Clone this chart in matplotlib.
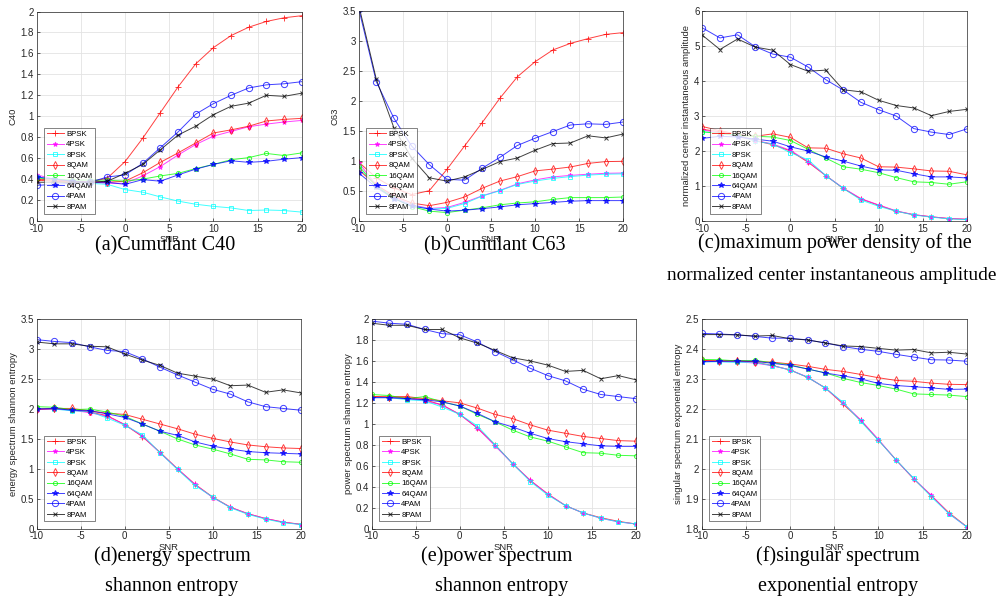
import numpy as np
import matplotlib.pyplot as plt

snr = np.arange(-10, 21, 2)
mods = ["BPSK", "4PSK", "8PSK", "8QAM", "16QAM", "64QAM", "4PAM", "8PAM"]

# (a) cumulant C40
c40 = {
    "BPSK": [0.39, 0.38, 0.37, 0.37, 0.41, 0.567, 0.79, 1.035, 1.28, 1.50, 1.655, 1.77, 1.85, 1.905, 1.94, 1.96],
    "4PSK": [0.44, 0.40, 0.38, 0.37, 0.36, 0.36, 0.43, 0.52, 0.63, 0.73, 0.81, 0.855, 0.90, 0.925, 0.945, 0.96],
    "8PSK": [0.42, 0.40, 0.38, 0.36, 0.35, 0.30, 0.275, 0.23, 0.19, 0.16, 0.14, 0.125, 0.10, 0.105, 0.10, 0.085],
    "8QAM": [0.40, 0.39, 0.38, 0.37, 0.37, 0.38, 0.46, 0.56, 0.65, 0.745, 0.84, 0.87, 0.905, 0.955, 0.97, 0.98],
    "16QAM": [0.41, 0.40, 0.39, 0.39, 0.39, 0.38, 0.40, 0.43, 0.455, 0.50, 0.54, 0.585, 0.605, 0.645, 0.625, 0.65],
    "64QAM": [0.42, 0.40, 0.38, 0.37, 0.37, 0.35, 0.395, 0.38, 0.44, 0.495, 0.54, 0.575, 0.56, 0.57, 0.59, 0.605],
    "4PAM": [0.34, 0.35, 0.36, 0.37, 0.42, 0.44, 0.55, 0.70, 0.85, 1.02, 1.12, 1.20, 1.27, 1.30, 1.31, 1.33],
    "8PAM": [0.37, 0.37, 0.37, 0.37, 0.38, 0.455, 0.54, 0.68, 0.82, 0.905, 1.015, 1.095, 1.125, 1.20, 1.19, 1.22],
}

# (b) cumulant C63
c63 = {
    "BPSK": [0.98, 0.72, 0.55, 0.44, 0.505, 0.86, 1.25, 1.64, 2.045, 2.405, 2.655, 2.85, 2.96, 3.04, 3.11, 3.14],
    "4PSK": [0.97, 0.60, 0.40, 0.27, 0.21, 0.225, 0.31, 0.42, 0.51, 0.62, 0.685, 0.735, 0.76, 0.78, 0.795, 0.80],
    "8PSK": [0.88, 0.58, 0.38, 0.26, 0.20, 0.21, 0.29, 0.415, 0.505, 0.61, 0.665, 0.71, 0.74, 0.765, 0.78, 0.785],
    "8QAM": [0.85, 0.60, 0.42, 0.30, 0.255, 0.31, 0.40, 0.545, 0.665, 0.74, 0.835, 0.865, 0.90, 0.96, 0.99, 0.995],
    "16QAM": [0.92, 0.58, 0.38, 0.24, 0.165, 0.14, 0.18, 0.22, 0.27, 0.30, 0.32, 0.36, 0.39, 0.39, 0.39, 0.40],
    "64QAM": [0.80, 0.56, 0.37, 0.25, 0.20, 0.165, 0.18, 0.205, 0.235, 0.27, 0.29, 0.31, 0.33, 0.34, 0.34, 0.34],
    "4PAM": [3.54, 2.32, 1.71, 1.25, 0.94, 0.695, 0.68, 0.88, 1.06, 1.26, 1.38, 1.49, 1.60, 1.62, 1.61, 1.65],
    "8PAM": [3.60, 2.36, 1.55, 1.05, 0.72, 0.665, 0.735, 0.86, 0.99, 1.05, 1.18, 1.29, 1.30, 1.42, 1.385, 1.45],
}

# (c) max power density of normalized center instantaneous amplitude
gmax = {
    "BPSK": [2.62, 2.55, 2.45, 2.30, 2.18, 2.00, 1.68, 1.30, 0.93, 0.63, 0.45, 0.28, 0.18, 0.12, 0.07, 0.05],
    "4PSK": [2.60, 2.52, 2.42, 2.30, 2.20, 2.02, 1.70, 1.30, 0.94, 0.64, 0.46, 0.29, 0.18, 0.12, 0.07, 0.05],
    "8PSK": [2.55, 2.50, 2.45, 2.28, 2.20, 1.95, 1.75, 1.30, 0.93, 0.60, 0.42, 0.28, 0.17, 0.11, 0.06, 0.04],
    "8QAM": [2.70, 2.58, 2.48, 2.42, 2.49, 2.39, 2.09, 2.08, 1.92, 1.80, 1.55, 1.54, 1.49, 1.43, 1.42, 1.32],
    "16QAM": [2.55, 2.50, 2.45, 2.42, 2.40, 2.30, 2.05, 1.80, 1.55, 1.48, 1.38, 1.24, 1.12, 1.10, 1.05, 1.12],
    "64QAM": [2.36, 2.42, 2.40, 2.34, 2.28, 2.12, 2.00, 1.83, 1.71, 1.57, 1.46, 1.45, 1.35, 1.26, 1.26, 1.23],
    "4PAM": [5.52, 5.23, 5.32, 4.98, 4.77, 4.68, 4.40, 4.04, 3.74, 3.39, 3.18, 3.00, 2.64, 2.54, 2.47, 2.63],
    "8PAM": [5.31, 4.90, 5.20, 4.97, 4.88, 4.47, 4.28, 4.31, 3.75, 3.69, 3.45, 3.30, 3.23, 3.01, 3.13, 3.19],
}

# (d) energy spectrum shannon entropy
energy = {
    "BPSK": [2.00, 2.00, 1.99, 1.95, 1.89, 1.74, 1.54, 1.28, 1.00, 0.74, 0.53, 0.36, 0.25, 0.17, 0.11, 0.075],
    "4PSK": [1.99, 2.00, 1.98, 1.94, 1.88, 1.74, 1.55, 1.27, 1.00, 0.74, 0.52, 0.36, 0.25, 0.17, 0.11, 0.07],
    "8PSK": [2.01, 2.00, 1.97, 1.96, 1.85, 1.73, 1.57, 1.27, 0.99, 0.72, 0.53, 0.35, 0.24, 0.16, 0.10, 0.07],
    "8QAM": [2.00, 2.01, 2.01, 1.97, 1.93, 1.91, 1.83, 1.75, 1.67, 1.58, 1.51, 1.45, 1.40, 1.37, 1.35, 1.34],
    "16QAM": [2.04, 2.03, 1.99, 2.00, 1.95, 1.88, 1.75, 1.63, 1.50, 1.40, 1.33, 1.25, 1.16, 1.15, 1.12, 1.11],
    "64QAM": [2.00, 2.01, 1.98, 1.97, 1.92, 1.86, 1.75, 1.63, 1.56, 1.45, 1.38, 1.33, 1.29, 1.27, 1.26, 1.25],
    "4PAM": [3.16, 3.13, 3.11, 3.04, 2.98, 2.96, 2.84, 2.70, 2.57, 2.45, 2.33, 2.25, 2.12, 2.04, 2.01, 1.98],
    "8PAM": [3.12, 3.09, 3.09, 3.05, 3.04, 2.92, 2.82, 2.73, 2.60, 2.55, 2.50, 2.39, 2.40, 2.28, 2.32, 2.27],
}

# (e) power spectrum shannon entropy
power = {
    "BPSK": [1.26, 1.25, 1.25, 1.23, 1.18, 1.09, 0.96, 0.80, 0.62, 0.46, 0.33, 0.22, 0.15, 0.105, 0.07, 0.045],
    "4PSK": [1.25, 1.25, 1.24, 1.22, 1.18, 1.09, 0.96, 0.79, 0.62, 0.46, 0.33, 0.22, 0.15, 0.10, 0.065, 0.045],
    "8PSK": [1.25, 1.25, 1.23, 1.22, 1.16, 1.09, 0.98, 0.80, 0.62, 0.45, 0.32, 0.22, 0.15, 0.10, 0.065, 0.045],
    "8QAM": [1.26, 1.26, 1.26, 1.24, 1.22, 1.20, 1.15, 1.09, 1.05, 0.99, 0.94, 0.91, 0.88, 0.86, 0.84, 0.835],
    "16QAM": [1.28, 1.27, 1.24, 1.26, 1.21, 1.17, 1.09, 1.02, 0.94, 0.875, 0.835, 0.78, 0.725, 0.72, 0.70, 0.695],
    "64QAM": [1.25, 1.25, 1.24, 1.23, 1.21, 1.17, 1.10, 1.02, 0.97, 0.91, 0.86, 0.83, 0.81, 0.79, 0.785, 0.785],
    "4PAM": [1.98, 1.96, 1.95, 1.90, 1.86, 1.85, 1.78, 1.69, 1.61, 1.53, 1.46, 1.41, 1.33, 1.28, 1.26, 1.24],
    "8PAM": [1.96, 1.94, 1.94, 1.90, 1.90, 1.82, 1.77, 1.70, 1.63, 1.60, 1.56, 1.50, 1.51, 1.43, 1.46, 1.42],
}

# (f) singular spectrum exponential entropy
singular = {
    "BPSK": [2.360, 2.360, 2.362, 2.356, 2.345, 2.330, 2.305, 2.270, 2.216, 2.162, 2.096, 2.030, 1.966, 1.910, 1.853, 1.807],
    "4PSK": [2.358, 2.358, 2.357, 2.353, 2.344, 2.330, 2.306, 2.269, 2.220, 2.163, 2.098, 2.029, 1.967, 1.911, 1.850, 1.806],
    "8PSK": [2.357, 2.357, 2.355, 2.356, 2.344, 2.330, 2.305, 2.270, 2.222, 2.158, 2.095, 2.030, 1.968, 1.906, 1.850, 1.806],
    "8QAM": [2.362, 2.360, 2.360, 2.358, 2.356, 2.350, 2.342, 2.332, 2.325, 2.315, 2.304, 2.295, 2.292, 2.286, 2.282, 2.281],
    "16QAM": [2.365, 2.364, 2.360, 2.362, 2.354, 2.347, 2.333, 2.320, 2.302, 2.288, 2.278, 2.266, 2.250, 2.248, 2.246, 2.241],
    "64QAM": [2.357, 2.359, 2.359, 2.359, 2.352, 2.345, 2.333, 2.320, 2.310, 2.300, 2.285, 2.278, 2.274, 2.270, 2.265, 2.266],
    "4PAM": [2.452, 2.450, 2.447, 2.442, 2.436, 2.436, 2.430, 2.420, 2.408, 2.399, 2.392, 2.382, 2.373, 2.364, 2.363, 2.359],
    "8PAM": [2.448, 2.448, 2.447, 2.443, 2.445, 2.434, 2.430, 2.420, 2.410, 2.408, 2.402, 2.396, 2.398, 2.387, 2.389, 2.383],
}

styles = {
    "BPSK": dict(color="#ff0000", marker="+", ms=4.5),
    "4PSK": dict(color="#ff00ff", marker="*", ms=3.5),
    "8PSK": dict(color="#00ffff", marker="s", ms=3.5, mfc="none"),
    "8QAM": dict(color="#ff0000", marker="d", ms=4, mfc="none"),
    "16QAM": dict(color="#00ff00", marker="o", ms=3, mfc="none"),
    "64QAM": dict(color="#0000ff", marker="*", ms=4),
    "4PAM": dict(color="#0000ff", marker="o", ms=4.5, mfc="none"),
    "8PAM": dict(color="#000000", marker="x", ms=3),
}

plt.rcParams["font.family"] = ["Liberation Sans", "DejaVu Sans"]
plt.rcParams["axes.unicode_minus"] = False
fig = plt.figure(figsize=(10, 6.04), dpi=100)
W, H = 1000.0, 604.0


def px_axes(x0, y0, x1, y1):
    return fig.add_axes([x0 / W, 1 - y1 / H, (x1 - x0) / W, (y1 - y0) / H])


panels = [
    (c40, (36.7, 11.5, 301.7, 221), (0, 2), np.arange(0, 2.01, 0.2), "C40"),
    (c63, (358.7, 11, 623.3, 221), (0, 3.5), np.arange(0, 3.51, 0.5), "C63"),
    (gmax, (702.3, 11, 966.7, 221), (0, 6), np.arange(0, 6.1, 1), "normalized center instantaneous amplitude"),
    (energy, (36.7, 319.3, 300.7, 528.7), (0, 3.5), np.arange(0, 3.51, 0.5), "energy spectrum shannon entropy"),
    (power, (371.7, 319, 636, 528.7), (0, 2), np.arange(0, 2.01, 0.2), "power spectrum shannon entropy"),
    (singular, (701.7, 319, 966.7, 528.7), (1.8, 2.5), np.arange(1.8, 2.51, 0.1), "singular spectrum exponential entropy"),
]

for data, rect, ylim, yt, ylab in panels:
    ax = px_axes(*rect)
    for m in mods:
        st = styles[m]
        ax.plot(snr, data[m], lw=0.7, label=m, mew=0.7, alpha=0.75, **st)
    ax.set_xlim(-10, 20)
    ax.set_ylim(*ylim)
    ax.set_xticks(np.arange(-10, 21, 5))
    ax.set_yticks(yt)
    ax.set_yticklabels(["%g" % round(v, 2) for v in yt])
    ax.tick_params(labelsize=7, length=2, width=0.5, direction="in", pad=2, colors="#262626")
    ax.grid(True, color="#e3e3e3", lw=0.6)
    ax.set_axisbelow(True)
    for s in ax.spines.values():
        s.set_linewidth(0.5)
        s.set_color("#262626")
    ax.set_xlabel("SNR", fontsize=6.8, labelpad=1, color="#262626")
    ax.set_ylabel(ylab, fontsize=6.8, labelpad=2, color="#262626")
    leg = ax.legend(loc="lower left", fontsize=5.6, frameon=True, fancybox=False,
                    borderpad=0.35, labelspacing=0.38, handlelength=2.2,
                    handletextpad=0.3, borderaxespad=0.95)
    leg.get_frame().set_edgecolor("#262626")
    leg.get_frame().set_linewidth(0.5)

captions = [
    (165, 246, "(a)Cumulant C40", 14.5),
    (495, 246, "(b)Cumulant C63", 14.5),
    (835, 243, "(c)maximum power density of the", 14.5),
    (832, 276, "normalized center instantaneous amplitude", 13.9),
    (172, 556, "(d)energy spectrum", 14.5),
    (172, 587, "shannon entropy", 14.5),
    (497, 556, "(e)power spectrum", 14.5),
    (502, 587, "shannon entropy", 14.5),
    (838, 556, "(f)singular spectrum", 14.5),
    (838, 587, "exponential entropy", 14.5),
]
for cx, cy, txt, fs in captions:
    fig.text(cx / W, 1 - cy / H, txt, ha="center", va="center",
             fontsize=fs, family=["Liberation Serif", "DejaVu Serif"])

fig.savefig("out.png", dpi=100)
